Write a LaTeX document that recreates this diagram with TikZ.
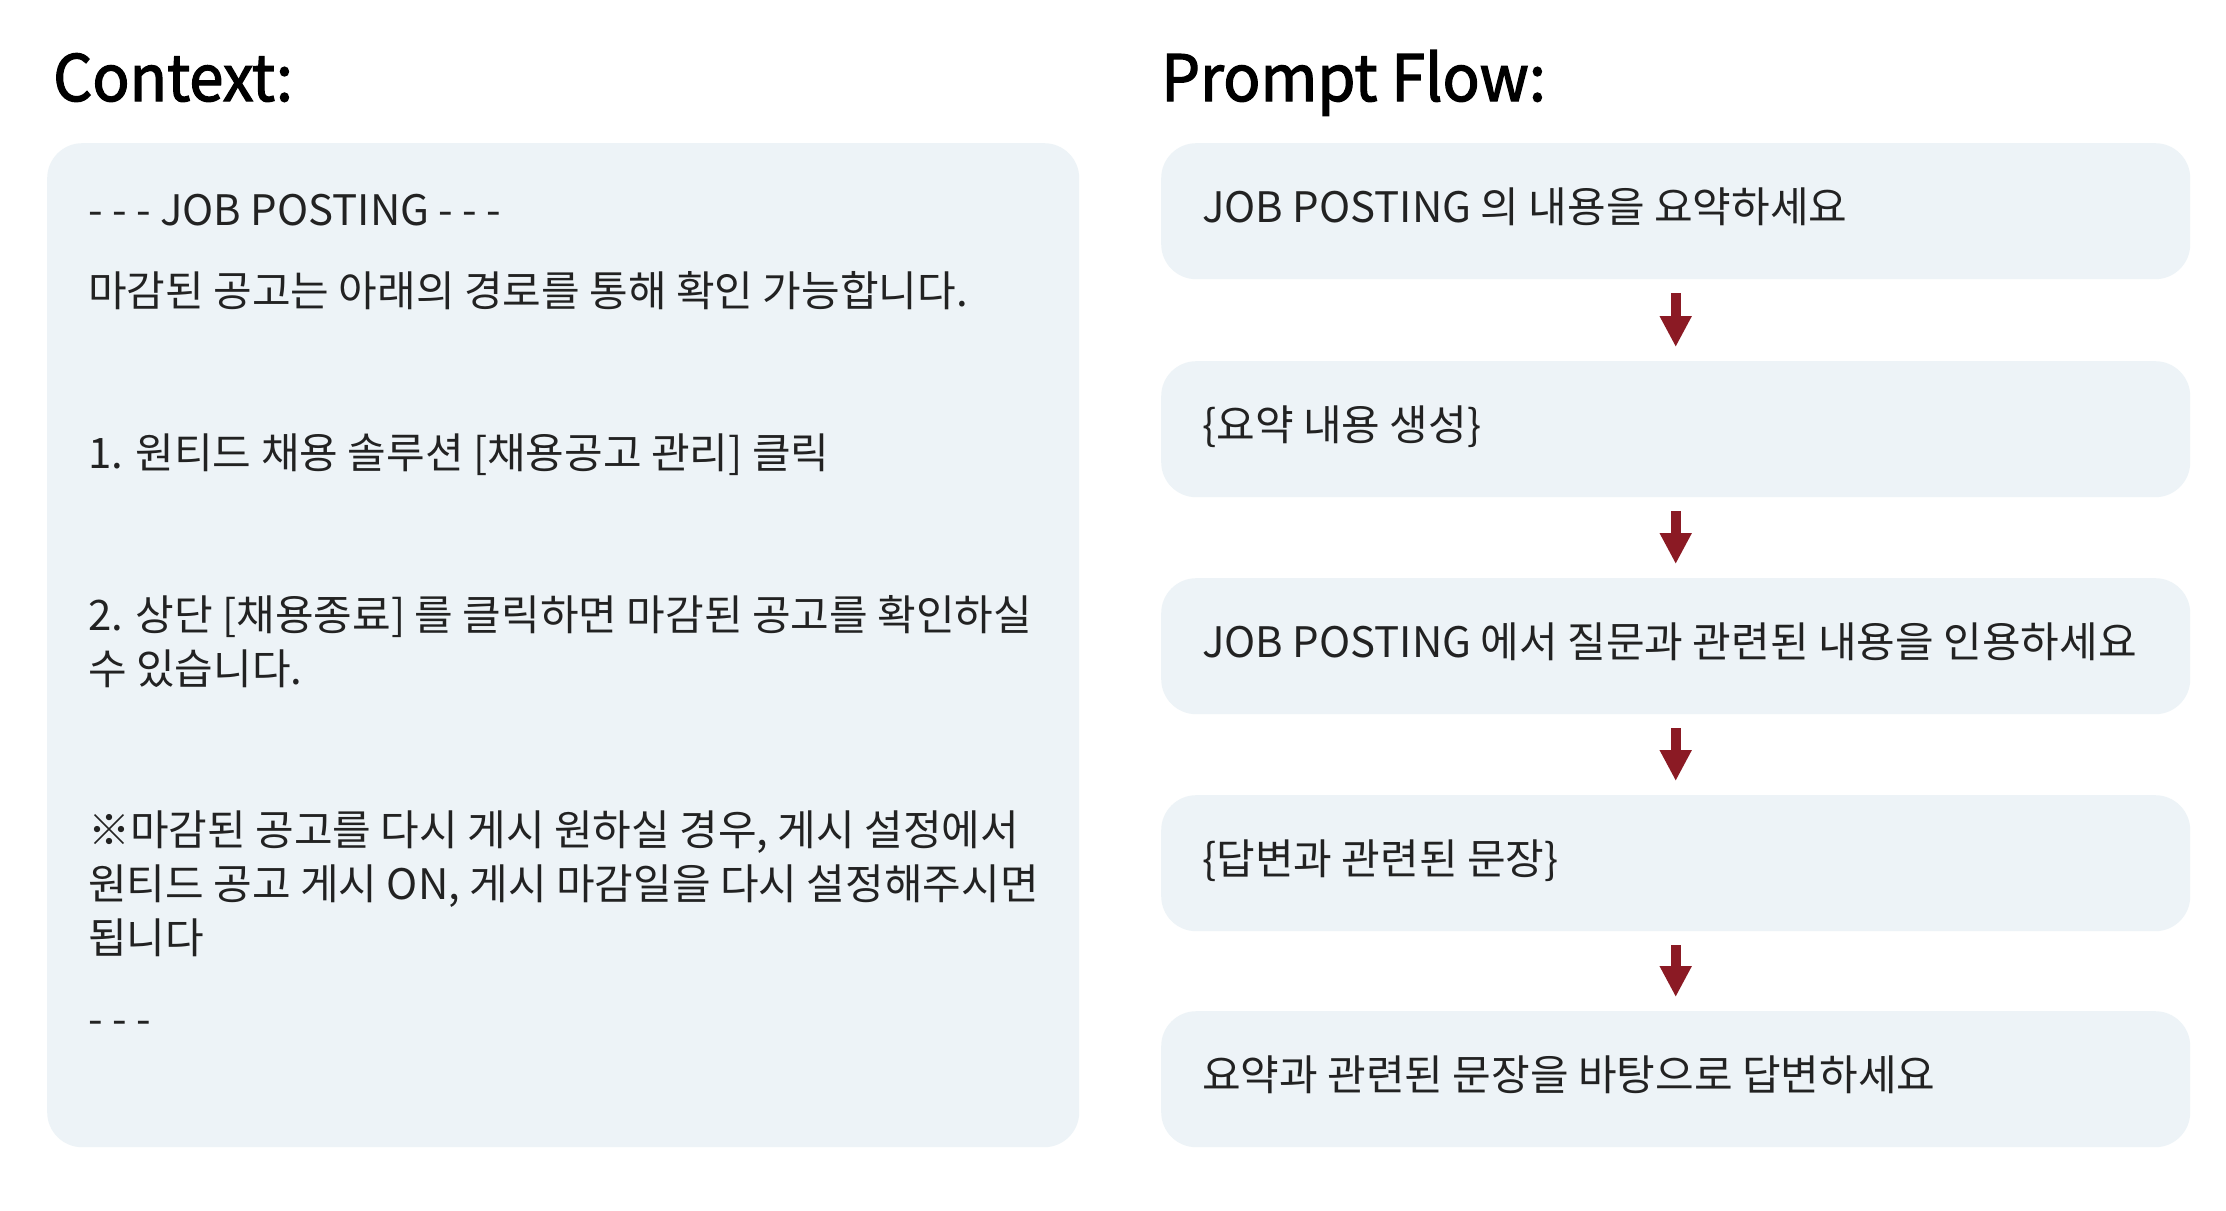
\documentclass[tikz,border=0pt]{standalone}
\usepackage{fontspec}
\setmainfont{Noto Sans CJK KR}
\newfontfamily\ttlfont{Noto Sans CJK KR}[FakeBold=2, FakeStretch=0.96]
\usetikzlibrary{arrows.meta}
\definecolor{boxfill}{HTML}{EDF3F7}
\definecolor{txt}{HTML}{222222}
\definecolor{arrred}{HTML}{8B1A24}
\tikzset{
  panel/.style={fill=boxfill, draw=none, rounded corners=35pt, inner sep=0pt, anchor=north west},
  flowbox/.style={panel, minimum width=1029pt, minimum height=136pt},
  body/.style={anchor=base west, inner sep=0pt, text=txt, font=\fontsize{42}{50}\selectfont},
  ttl/.style={anchor=base west, inner sep=0pt, text=black, font=\ttlfont\fontsize{64}{72}\selectfont},
  arr/.style={draw=arrred, line width=10pt, -{Triangle[width=30pt,length=31pt]}, shorten <=14pt, shorten >=14pt}
}
\begin{document}
\begin{tikzpicture}[x=1pt,y=-1pt]
\useasboundingbox[fill=white] (0,0) rectangle (2226,1210);
% titles
\node[ttl] (tctx) at (53,101) {Context:};
\node[ttl] (tflow) at (1161,101) {Prompt Flow:};
% context panel
\node[panel, minimum width=1032pt, minimum height=1004pt] (ctx) at (47,143) {};
\node[body] (c1) at (88,225) {- - - JOB POSTING - - -};
\node[body] (c2) at (88,306) {마감된 공고는 아래의 경로를 통해 확인 가능합니다.};
\node[body] (c3) at (88,468) {1. 원티드 채용 솔루션 [채용공고 관리] 클릭};
\node[body] (c4) at (88,630) {2. 상단 [채용종료] 를 클릭하면 마감된 공고를 확인하실};
\node[body] (c5) at (88,684) {수 있습니다.};
\node[body] (c6) at (88,845) {※마감된 공고를 다시 게시 원하실 경우, 게시 설정에서};
\node[body] (c7) at (88,899) {원티드 공고 게시 ON, 게시 마감일을 다시 설정해주시면};
\node[body] (c8) at (88,953) {됩니다};
\node[body] (c9) at (88,1034) {- - -};
% flow boxes
\node[flowbox] (b1) at (1161,143) {};
\node[flowbox] (b2) at (1161,361) {};
\node[flowbox] (b3) at (1161,578) {};
\node[flowbox] (b4) at (1161,795) {};
\node[flowbox] (b5) at (1161,1011) {};
\node[body] (f1) at (1202,222) {JOB POSTING 의 내용을 요약하세요};
\node[body] (f2) at (1202,440) {\{요약 내용 생성\}};
\node[body] (f3) at (1202,657) {JOB POSTING 에서 질문과 관련된 내용을 인용하세요};
\node[body] (f4) at (1202,874) {\{답변과 관련된 문장\}};
\node[body] (f5) at (1202,1090) {요약과 관련된 문장을 바탕으로 답변하세요};
% arrows
\draw[arr] (b1.south) -- (b2.north);
\draw[arr] (b2.south) -- (b3.north);
\draw[arr] (b3.south) -- (b4.north);
\draw[arr] (b4.south) -- (b5.north);
\end{tikzpicture}
\end{document}
